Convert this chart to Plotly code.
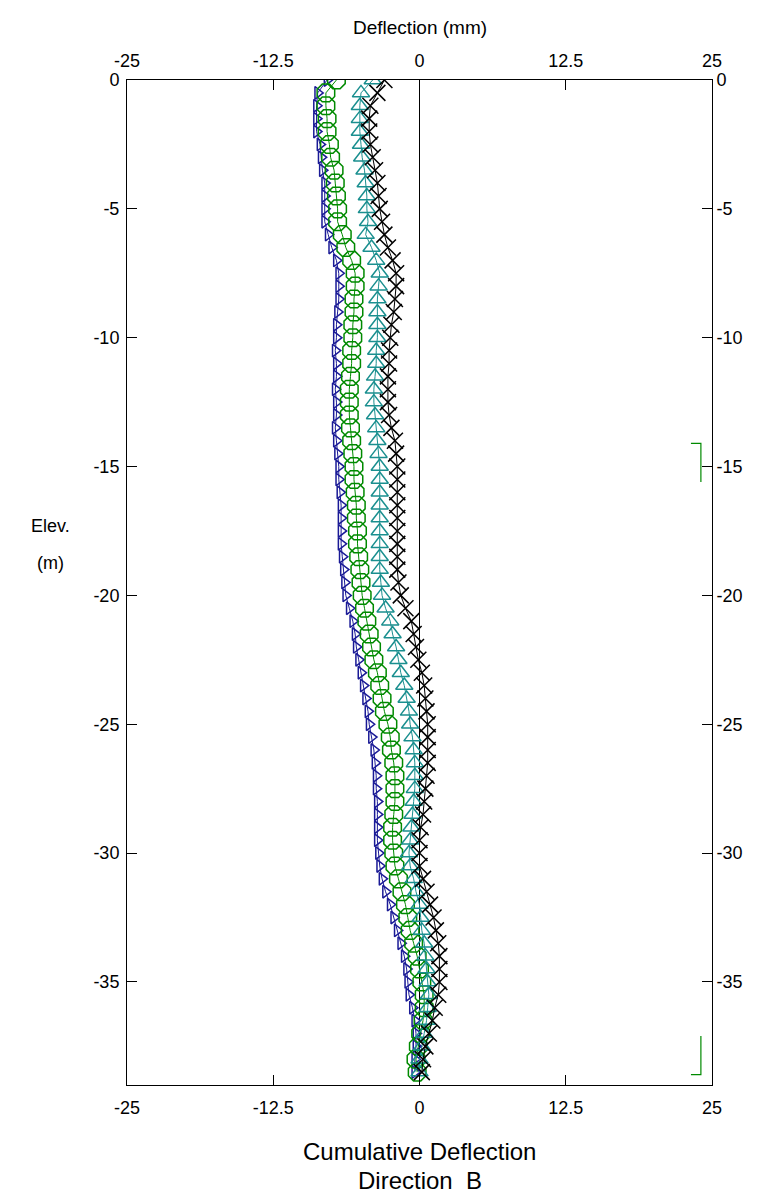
import plotly.graph_objects as go

# Elevation (m), 0.5 m steps from 0 to -38.5
elev = [-0.5 * i for i in range(78)]

blue_a = [-7.9, -8.7, -8.8, -8.8, -8.8, -8.5, -8.4, -8.3, -8.1, -8.1,
          -8.1, -8.1, -7.8, -7.5, -7.1, -6.9, -6.9, -6.9, -7.0, -7.1,
          -7.1, -7.2, -7.1, -7.1, -7.2, -7.1, -7.1, -7.2, -7.1, -7.0,
          -6.9, -6.9, -6.8, -6.7, -6.7, -6.7, -6.7, -6.6, -6.5, -6.4,
          -6.3, -6.0, -5.7, -5.5, -5.4, -5.2, -5.0, -4.8, -4.6, -4.4,
          -4.3, -4.1, -3.9, -3.8, -3.7, -3.7, -3.6, -3.6, -3.6, -3.6,
          -3.5, -3.4, -3.2, -2.9, -2.5, -2.2, -1.9, -1.6, -1.3, -1.1,
          -1.0, -0.9, -0.6, -0.4, -0.3, -0.3, -0.4, -0.4]

green_o = [-7.1, -8.0, -8.0, -7.9, -7.9, -7.7, -7.6, -7.3, -7.2, -7.1,
           -7.0, -7.0, -6.6, -6.3, -5.8, -5.5, -5.5, -5.6, -5.6, -5.7,
           -5.7, -5.8, -5.8, -5.9, -6.0, -6.0, -6.0, -5.9, -5.8, -5.7,
           -5.6, -5.6, -5.5, -5.4, -5.4, -5.3, -5.3, -5.2, -5.1, -5.0,
           -4.9, -4.7, -4.5, -4.3, -4.1, -3.9, -3.6, -3.4, -3.2, -3.0,
           -2.7, -2.5, -2.4, -2.2, -2.1, -2.1, -2.1, -2.2, -2.3, -2.3,
           -2.2, -2.1, -1.8, -1.5, -1.2, -1.0, -0.8, -0.5, -0.2, 0.0,
           0.2, 0.4, 0.4, 0.3, 0.1, -0.1, -0.3, -0.2]

teal_t = [-4.0, -5.0, -5.1, -5.1, -5.1, -5.0, -4.9, -4.7, -4.6, -4.5,
          -4.5, -4.4, -4.6, -4.1, -3.7, -3.4, -3.5, -3.6, -3.6, -3.6,
          -3.6, -3.7, -3.7, -3.8, -3.9, -3.9, -3.8, -3.7, -3.6, -3.5,
          -3.4, -3.4, -3.4, -3.4, -3.4, -3.4, -3.4, -3.4, -3.4, -3.3,
          -3.2, -2.9, -2.5, -2.3, -2.0, -1.8, -1.6, -1.3, -1.1, -0.9,
          -0.8, -0.6, -0.5, -0.4, -0.4, -0.4, -0.5, -0.6, -0.7, -0.8,
          -0.9, -0.8, -0.5, -0.3, 0.0, 0.1, 0.2, 0.4, 0.5, 0.6,
          0.7, 0.8, 0.7, 0.6, 0.4, 0.2, 0.0, 0.0]

black_x = [-3.0, -3.6, -4.2, -4.3, -4.3, -4.2, -4.0, -3.8, -3.6, -3.5,
           -3.4, -3.2, -3.0, -2.7, -2.3, -2.0, -2.0, -2.1, -2.2, -2.4,
           -2.5, -2.6, -2.6, -2.7, -2.7, -2.7, -2.6, -2.4, -2.1, -2.0,
           -1.9, -1.9, -1.9, -1.9, -1.9, -1.9, -1.9, -1.9, -1.9, -1.8,
           -1.6, -1.2, -0.7, -0.5, -0.3, -0.1, 0.2, 0.4, 0.5, 0.6,
           0.7, 0.7, 0.7, 0.7, 0.6, 0.5, 0.4, 0.3, 0.1, 0.0,
           0.0, 0.0, 0.3, 0.6, 0.9, 1.2, 1.4, 1.6, 1.7, 1.7,
           1.7, 1.6, 1.3, 1.1, 0.8, 0.5, 0.3, 0.2]

x_ticks = [-25, -12.5, 0, 12.5, 25]
x_tick_labels = ["-25", "-12.5", "0", "12.5", "25"]
y_ticks = [0, -5, -10, -15, -20, -25, -30, -35]
y_tick_labels = ["0", "-5", "-10", "-15", "-20", "-25", "-30", "-35"]

# green bracket marks at right edge (mm, m)
bracket_x = [23.2, 24.05]
bracket1_y = [-14.1, -15.6]
bracket2_y = [-37.1, -38.6]

FONT = "Liberation Sans, Arial, sans-serif"

fig = go.Figure()

series = [
    (blue_a, "#1a1a96", "triangle-right-open", 11, 1.5),
    (green_o, "#008a00", "octagon-open", 19, 1.5),
    (teal_t, "#1a8f8f", "triangle-up-open", 15, 1.5),
    (black_x, "#000000", "x-thin-open", 16, 1.5),
]
for vals, col, sym, sz, lw in series:
    fig.add_trace(go.Scatter(
        x=vals, y=elev, mode="lines+markers",
        line=dict(color=col, width=1),
        marker=dict(symbol=sym, size=sz, color=col, line=dict(color=col, width=lw)),
        showlegend=False, hoverinfo="skip",
    ))

# empty trace to activate secondary axes
fig.add_trace(go.Scatter(x=[], y=[], xaxis="x2", yaxis="y2", showlegend=False))

fig.add_shape(type="path", xref="x", yref="y",
              path=f"M {bracket_x[0]} {bracket1_y[0]} L {bracket_x[1]} {bracket1_y[0]} L {bracket_x[1]} {bracket1_y[1]}",
              line=dict(color="#008a00", width=1.2))
fig.add_shape(type="path", xref="x", yref="y",
              path=f"M {bracket_x[1]} {bracket2_y[0]} L {bracket_x[1]} {bracket2_y[1]} L {bracket_x[0]} {bracket2_y[1]}",
              line=dict(color="#008a00", width=1.2))

axis_common = dict(showline=True, linecolor="black", linewidth=1, ticks="inside",
                   ticklen=10, tickcolor="black", tickwidth=1, showgrid=False,
                   tickfont=dict(family=FONT, size=18, color="black"))

fig.update_layout(
    width=760, height=1198,
    margin=dict(l=119, r=56, t=72, b=121),
    paper_bgcolor="white", plot_bgcolor="white",
    font=dict(family=FONT, color="black"),
    xaxis=dict(range=[-25, 25], tickvals=x_ticks, ticktext=x_tick_labels,
               zeroline=True, zerolinecolor="black", zerolinewidth=1,
               ticklabelstandoff=6, **axis_common),
    xaxis2=dict(range=[-25, 25], tickvals=x_ticks, ticktext=x_tick_labels,
                overlaying="x", side="top", anchor="y", zeroline=False,
                ticklabelstandoff=5, **axis_common),
    yaxis=dict(range=[-39, 0], tickvals=y_ticks, ticktext=y_tick_labels,
               zeroline=False, ticklabelstandoff=3, **axis_common),
    yaxis2=dict(range=[-39, 0], tickvals=y_ticks, ticktext=y_tick_labels,
                overlaying="y", side="right", anchor="x", zeroline=False, **axis_common),
    annotations=[
        dict(text="Deflection (mm)", xref="paper", yref="paper", x=0.5, y=1.052,
             xanchor="center", showarrow=False, font=dict(size=19, family=FONT), yanchor="middle"),
        dict(text="Cumulative Deflection", xref="paper", yref="paper", x=0.5, y=-0.066,
             xanchor="center", showarrow=False, font=dict(size=24, family=FONT), yanchor="middle"),
        dict(text="Direction  B", xref="paper", yref="paper", x=0.5, y=-0.095,
             xanchor="center", showarrow=False, font=dict(size=24, family=FONT), yanchor="middle"),
        dict(text="Elev.", xref="paper", yref="paper", x=-0.1316, y=0.556,
             xanchor="center", showarrow=False, font=dict(size=18, family=FONT), yanchor="middle"),
        dict(text="(m)", xref="paper", yref="paper", x=-0.1316, y=0.519,
             xanchor="center", showarrow=False, font=dict(size=18, family=FONT), yanchor="middle"),
    ],
)

fig.write_html("out.html")
